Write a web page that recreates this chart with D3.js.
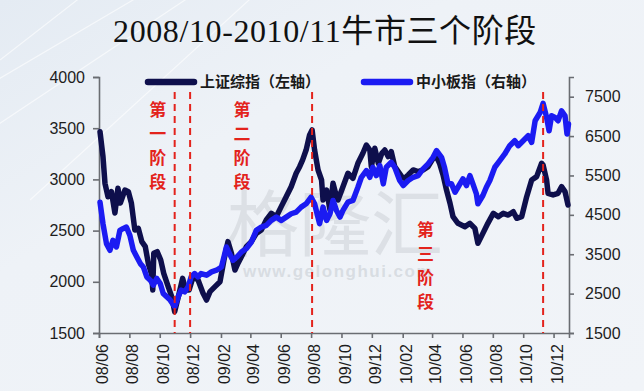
<!DOCTYPE html>
<html>
<head>
<meta charset="utf-8">
<script src="https://cdn.jsdelivr.net/npm/d3@7"></script>
<style>
  body { margin: 0; background: #eef2f7; }
  svg { display: block; }
</style>
</head>
<body>
<div id="chart"></div>
<script>
// 上证综指 (left axis)
const sseDates = ["2008-06-03","2008-06-09","2008-06-13","2008-06-19","2008-06-26","2008-07-03","2008-07-09","2008-07-14","2008-07-23","2008-07-30",
  "2008-08-05","2008-08-12","2008-08-19","2008-08-26","2008-09-02","2008-09-08","2008-09-15","2008-09-17","2008-09-19","2008-09-26",
  "2008-10-03","2008-10-09","2008-10-18","2008-10-25","2008-10-31","2008-11-09","2008-11-16","2008-11-22","2008-11-29","2008-12-07",
  "2008-12-17","2008-12-27","2009-01-03","2009-01-10","2009-01-20","2009-01-30","2009-02-07","2009-02-15","2009-02-22","2009-03-01",
  "2009-03-07","2009-03-14","2009-03-24","2009-04-03","2009-04-13","2009-04-23","2009-05-03","2009-05-13","2009-05-23","2009-06-02",
  "2009-06-12","2009-06-22","2009-07-02","2009-07-09","2009-07-15","2009-07-22","2009-07-29","2009-08-03","2009-08-08","2009-08-15",
  "2009-08-22","2009-08-25","2009-09-01","2009-09-08","2009-09-14","2009-09-21","2009-09-24","2009-10-04","2009-10-14","2009-10-24",
  "2009-11-03","2009-11-13","2009-11-20","2009-11-27","2009-11-30","2009-12-07","2009-12-14","2009-12-21","2009-12-27","2010-01-03",
  "2010-01-09","2010-01-16","2010-01-23","2010-01-30","2010-02-05","2010-02-12","2010-02-22","2010-03-04","2010-03-14","2010-03-24",
  "2010-04-03","2010-04-10","2010-04-16","2010-04-23","2010-04-30","2010-05-07","2010-05-13","2010-05-23","2010-06-06","2010-06-16",
  "2010-06-26","2010-07-02","2010-07-12","2010-07-22","2010-08-02","2010-08-12","2010-08-22","2010-09-01","2010-09-11","2010-09-18",
  "2010-09-28","2010-10-08","2010-10-18","2010-10-28","2010-11-07","2010-11-10","2010-11-17","2010-11-20","2010-11-30","2010-12-10",
  "2010-12-17","2010-12-24","2010-12-30"];
const sseValues = [3466,3222,2962,2831,2880,2672,2913,2770,2896,2880,
  2770,2506,2522,2392,2343,2180,2066,1920,2278,2294,
  2213,2083,1953,1855,1708,1888,2034,1920,1920,2050,
  2018,1888,1822,1904,1953,2001,2213,2392,2278,2115,
  2180,2245,2343,2392,2473,2506,2604,2669,2636,2734,
  2831,2929,3060,3124,3190,3287,3434,3483,3287,3092,
  2994,2799,2896,2701,2962,2831,2799,2929,3060,3011,
  3157,3255,3336,3287,3124,3304,3157,3255,3287,3222,
  3271,3124,3076,3027,3011,3043,3092,3076,3092,3124,
  3206,3222,3157,3043,2896,2767,2636,2571,2538,2571,
  2522,2376,2473,2571,2669,2636,2669,2652,2685,2620,
  2636,2831,2994,3027,3157,3140,2994,2864,2848,2864,
  2929,2880,2750];

// 中小板指 (right axis)
const smeDates = ["2008-06-03","2008-06-09","2008-06-16","2008-06-23","2008-06-29","2008-07-06","2008-07-13","2008-07-19","2008-07-26","2008-08-02",
  "2008-08-09","2008-08-16","2008-08-23","2008-08-29","2008-09-05","2008-09-12","2008-09-18","2008-09-25","2008-10-02","2008-10-08",
  "2008-10-15","2008-10-22","2008-10-31","2008-11-07","2008-11-13","2008-11-20","2008-11-27","2008-12-03","2008-12-10","2008-12-17",
  "2008-12-23","2009-01-03","2009-01-13","2009-01-23","2009-02-02","2009-02-12","2009-02-18","2009-02-25","2009-03-05","2009-03-14",
  "2009-03-24","2009-04-03","2009-04-13","2009-04-23","2009-05-03","2009-05-13","2009-05-23","2009-06-02","2009-06-12","2009-06-22",
  "2009-07-02","2009-07-12","2009-07-22","2009-08-01","2009-08-08","2009-08-18","2009-08-25","2009-09-01","2009-09-08","2009-09-14",
  "2009-09-21","2009-09-28","2009-10-04","2009-10-14","2009-10-24","2009-11-03","2009-11-10","2009-11-20","2009-11-27","2009-12-03",
  "2009-12-10","2009-12-17","2009-12-24","2009-12-30","2010-01-09","2010-01-16","2010-01-26","2010-02-02","2010-02-12","2010-02-22",
  "2010-03-04","2010-03-14","2010-03-24","2010-04-03","2010-04-10","2010-04-20","2010-04-26","2010-05-03","2010-05-10","2010-05-17",
  "2010-05-23","2010-06-02","2010-06-09","2010-06-16","2010-06-22","2010-06-29","2010-07-02","2010-07-12","2010-07-19","2010-07-26",
  "2010-08-05","2010-08-15","2010-08-25","2010-09-04","2010-09-14","2010-09-21","2010-10-01","2010-10-11","2010-10-18","2010-10-25",
  "2010-11-04","2010-11-10","2010-11-17","2010-11-22","2010-11-27","2010-12-04","2010-12-10","2010-12-17","2010-12-24","2010-12-28",
  "2010-12-31"];
const smeValues = [4822,4275,3769,3600,3853,3684,4106,4149,4190,3979,
  3600,3430,3263,3177,2924,2841,2714,2884,2757,2504,
  2418,2335,2165,2418,2588,2545,2671,2924,3010,2924,
  3010,2967,3051,3094,3177,3683,3516,3347,3430,3557,
  3643,3810,4106,4190,4232,4359,4443,4359,4443,4528,
  4569,4696,4781,4949,4781,4275,4696,4359,4528,4865,
  4612,4443,4612,4822,4865,5201,5454,5624,5454,5708,
  5497,5750,5287,5708,5834,5708,5371,5244,5371,5454,
  5497,5666,5793,5961,6130,5961,5700,5287,5287,5075,
  5200,5413,5244,5497,5287,5034,4781,4991,5201,5371,
  5708,5877,6046,6256,6383,6256,6383,6509,6340,6889,
  7099,7330,6973,6636,7015,6973,6889,7142,7015,6552,
  6805];

const leftTicks = [1500, 2000, 2500, 3000, 3500, 4000];
const rightTicks = [1500, 2500, 3500, 4500, 5500, 6500, 7500];
const stageDates = ["2008-10-31", "2008-12-01", "2009-08-03", "2010-11-10"];
const stageLabels = ["第一阶段", "第二阶段", "第三阶段"];
const stageLabelDates = ["2008-09-27", "2009-03-15", "2010-03-19"];
const seriesNames = ["上证综指（左轴）", "中小板指（右轴）"];
const title = "2008/10-2010/11牛市三个阶段";

const W = 644, H = 391;
const NAVY = "#0e0f4c", BLUE = "#1b1bf2", RED = "#e3231c";
const parse = d3.timeParse("%Y-%m-%d");

const svg = d3.select("#chart").append("svg")
  .attr("width", W).attr("height", H);

// background
const defs = svg.append("defs");
const grad = defs.append("linearGradient").attr("id", "bg")
  .attr("x1", 0).attr("y1", 0).attr("x2", 1).attr("y2", 1);
grad.append("stop").attr("offset", "0%").attr("stop-color", "#e4ebf3");
grad.append("stop").attr("offset", "35%").attr("stop-color", "#eef2f7");
grad.append("stop").attr("offset", "100%").attr("stop-color", "#f1f4f8");
svg.append("rect").attr("width", W).attr("height", H).attr("fill", "url(#bg)");

// faint decorative strokes top-left
const deco = svg.append("g").attr("stroke", "#ffffff").attr("stroke-opacity", 0.6).attr("fill", "none");
[[-20, 90, 150, -10], [-10, 130, 200, -10], [0, 60, 90, -10], [30, 200, 260, -10]].forEach(l => {
  deco.append("line").attr("x1", l[0]).attr("y1", l[1]).attr("x2", l[2]).attr("y2", l[3]).attr("stroke-width", 1.2);
});

// title
svg.append("text")
  .attr("x", 325).attr("y", 42)
  .attr("text-anchor", "middle")
  .attr("font-family", "'Liberation Serif', 'Noto Sans CJK SC', serif")
  .attr("font-size", 32)
  .attr("letter-spacing", 0.6)
  .attr("fill", "#111")
  .text(title);

const x = d3.scaleTime()
  .domain([new Date(2008, 5, 1), new Date(2011, 0, 1)])
  .range([99, 569]);
const yL = d3.scaleLinear().domain([1500, 4000]).range([333, 77]);
const yR = d3.scaleLinear().domain([1500, 8000]).range([333, 77]);

// watermark
svg.append("text")
  .attr("x", 335).attr("y", 250)
  .attr("text-anchor", "middle")
  .attr("font-family", "'Noto Sans CJK SC', sans-serif")
  .attr("font-size", 72)
  .attr("fill", "#c9ced4").attr("fill-opacity", 0.5)
  .text("格隆汇");
svg.append("text")
  .attr("x", 338).attr("y", 277)
  .attr("text-anchor", "middle")
  .attr("font-family", "'Liberation Sans', Arial, sans-serif")
  .attr("font-size", 17).attr("font-weight", "bold")
  .attr("letter-spacing", 1.5)
  .attr("fill", "#c9ced4").attr("fill-opacity", 0.6)
  .text("www.gelonghui.com");

const axisFont = "'Liberation Sans', Arial, sans-serif";

// left axis
const gL = svg.append("g").attr("transform", "translate(99,0)")
  .call(d3.axisLeft(yL).tickValues(leftTicks).tickSize(6).tickPadding(8).tickFormat(d3.format("d")));
// right axis
const gR = svg.append("g").attr("transform", "translate(569,0)")
  .call(d3.axisRight(yR).tickValues(rightTicks).tickSize(5).tickPadding(11).tickFormat(d3.format("d")));
// bottom axis
const monthTicks = d3.timeMonth.range(new Date(2008, 5, 1), new Date(2011, 0, 1), 2);
const gB = svg.append("g").attr("transform", "translate(0,333)")
  .call(d3.axisBottom(x).tickValues(monthTicks).tickSize(5).tickFormat(d3.timeFormat("%y/%m")));
gB.selectAll("text")
  .attr("transform", "rotate(-90)")
  .attr("text-anchor", "end")
  .attr("x", -11).attr("y", 3).attr("dy", "0.35em");

[gL, gR, gB].forEach(g => {
  g.select(".domain").attr("stroke", "#6a6d72").attr("stroke-width", 1.6);
  g.selectAll(".tick line").attr("stroke", "#6a6d72").attr("stroke-width", 1.6);
  g.selectAll("text").attr("font-family", axisFont).attr("font-size", 16).attr("fill", "#1d1d1d");
});

// series lines
const sse = sseDates.map((d, i) => ({ date: parse(d), value: sseValues[i] }));
const sme = smeDates.map((d, i) => ({ date: parse(d), value: smeValues[i] }));

svg.append("path").datum(sse)
  .attr("fill", "none").attr("stroke", NAVY).attr("stroke-width", 5.5)
  .attr("stroke-linejoin", "round").attr("stroke-linecap", "round")
  .attr("d", d3.line().x(d => x(d.date)).y(d => yL(d.value)));

svg.append("path").datum(sme)
  .attr("fill", "none").attr("stroke", BLUE).attr("stroke-width", 5.5)
  .attr("stroke-linejoin", "round").attr("stroke-linecap", "round")
  .attr("d", d3.line().x(d => x(d.date)).y(d => yR(d.value)));

// stage dividers
svg.selectAll(".stage").data(stageDates).enter().append("line")
  .attr("x1", d => x(parse(d))).attr("x2", d => x(parse(d)))
  .attr("y1", 92).attr("y2", 333)
  .attr("stroke", RED).attr("stroke-width", 2)
  .attr("stroke-dasharray", "7,5");

// stage labels (vertical)
const labelTops = [110, 110, 230];
stageLabels.forEach((label, i) => {
  const t = svg.append("text")
    .attr("font-family", "'Noto Sans CJK SC', sans-serif")
    .attr("font-size", 17).attr("font-weight", "bold")
    .attr("fill", RED).attr("text-anchor", "middle");
  label.split("").forEach((ch, j) => {
    t.append("tspan")
      .attr("x", x(parse(stageLabelDates[i])))
      .attr("y", labelTops[i] + j * 24)
      .attr("dy", "0.35em")
      .text(ch);
  });
});

// legend
const legend = [
  { name: seriesNames[0], color: NAVY, x0: 148 },
  { name: seriesNames[1], color: BLUE, x0: 364 }
];
legend.forEach(l => {
  svg.append("line")
    .attr("x1", l.x0).attr("x2", l.x0 + 46).attr("y1", 82).attr("y2", 82)
    .attr("stroke", l.color).attr("stroke-width", 6.5).attr("stroke-linecap", "round");
  svg.append("text")
    .attr("x", l.x0 + 52).attr("y", 82).attr("dy", "0.36em")
    .attr("font-family", "'Noto Sans CJK SC', sans-serif")
    .attr("font-size", 15).attr("font-weight", "bold")
    .attr("fill", "#1a1a1a")
    .text(l.name);
});
</script>
</body>
</html>
